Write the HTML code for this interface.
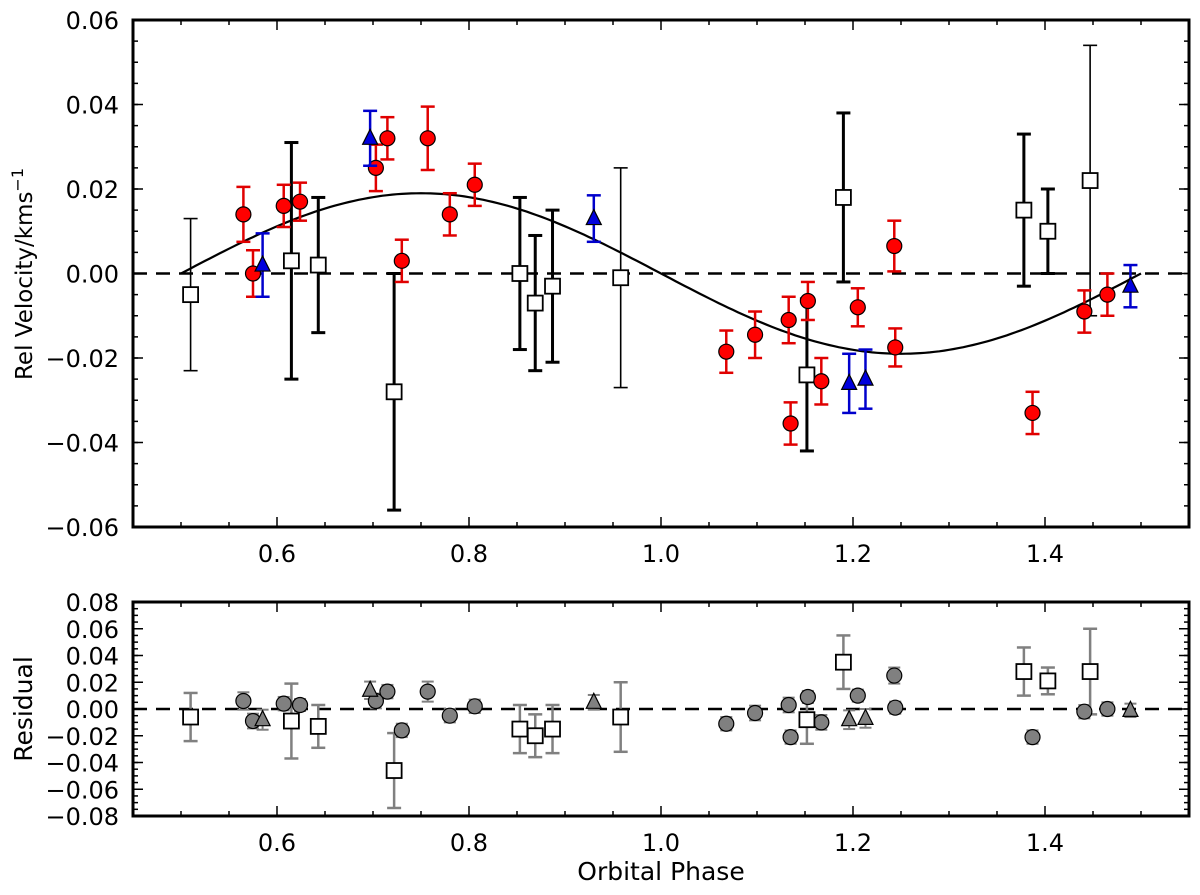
<!DOCTYPE html>
<html><head><meta charset="utf-8"><style>
body{margin:0;background:#fff;}
svg text{font-family:"DejaVu Sans","Liberation Sans",sans-serif;fill:#000;}
</style></head><body>
<svg id="chart" width="1200" height="890" xmlns="http://www.w3.org/2000/svg"></svg>
<script>
// ---- data ----
const sqPhase = [0.51,0.615,0.643,0.722,0.853,0.869,0.887,0.958,1.152,1.19,1.378,1.403,1.447];
const sqVel   = [-0.005,0.003,0.002,-0.028,0.000,-0.007,-0.003,-0.001,-0.024,0.018,0.015,0.010,0.022];
const sqErr   = [0.018,0.028,0.016,0.028,0.018,0.016,0.018,0.026,0.018,0.020,0.018,0.010,0.032];
const sqThin  = [1,0,0,0,0,0,0,1,0,0,0,0,1];
const sqRes   = [-0.006,-0.009,-0.013,-0.046,-0.015,-0.020,-0.015,-0.006,-0.008,0.035,0.028,0.021,0.028];
const ciPhase = [0.565,0.575,0.607,0.624,0.703,0.715,0.730,0.757,0.780,0.806,1.068,1.098,1.133,1.135,1.153,1.167,1.205,1.243,1.244,1.387,1.441,1.465];
const ciVel   = [0.014,0.000,0.016,0.017,0.025,0.032,0.003,0.032,0.014,0.021,-0.0185,-0.0145,-0.011,-0.0355,-0.0065,-0.0255,-0.008,0.0065,-0.0175,-0.033,-0.009,-0.005];
const ciErr   = [0.0065,0.0055,0.005,0.0045,0.0055,0.005,0.005,0.0075,0.005,0.005,0.005,0.0055,0.0055,0.005,0.0045,0.0055,0.0045,0.006,0.0045,0.005,0.005,0.005];
const ciRes   = [0.006,-0.009,0.004,0.003,0.006,0.013,-0.016,0.013,-0.005,0.002,-0.011,-0.003,0.003,-0.021,0.009,-0.010,0.010,0.025,0.001,-0.021,-0.002,0.000];
const trPhase = [0.585,0.697,0.930,1.196,1.213,1.489];
const trVel   = [0.002,0.032,0.013,-0.026,-0.025,-0.003];
const trErr   = [0.0075,0.0065,0.0055,0.007,0.007,0.005];
const trRes   = [-0.008,0.014,0.005,-0.008,-0.007,-0.001];
const modelK  = 0.019;
const xTicks  = [0.6,0.8,1.0,1.2,1.4];
const yTicksTop = [0.06,0.04,0.02,0.00,-0.02,-0.04,-0.06];
const yTicksBot = [0.08,0.06,0.04,0.02,0.00,-0.02,-0.04,-0.06,-0.08];

const NS="http://www.w3.org/2000/svg";
const svg=document.getElementById('chart');
function mk(tag,attrs,parent){const e=document.createElementNS(NS,tag);for(const k in attrs)e.setAttribute(k,attrs[k]);(parent||svg).appendChild(e);return e;}
const L=133,R=1189;
const X=v=>L+(v-0.45)/(1.10)*(R-L);
const T={top:20,bot:527,min:-0.06,max:0.06};
const B={top:602,bot:816,min:-0.08,max:0.08};
const Y=(p,v)=>p.bot-(v-p.min)/(p.max-p.min)*(p.bot-p.top);
const fmt=v=>(v<0?'\u2212':'')+Math.abs(v).toFixed(2);

function frame(p,yt,minorStep,name){
  const g=mk('g',{});
  
  
  for(let v=0.5;v<1.55;v+=0.05){const x=X(v);const major=Math.abs((v*10)%2)<0.01||Math.abs((v*10)%2-2)<0.01;const len=major?10:5;
    mk('line',{x1:x,x2:x,y1:p.bot,y2:p.bot-len,stroke:'#000','stroke-width':1.5},g);
    mk('line',{x1:x,x2:x,y1:p.top,y2:p.top+len,stroke:'#000','stroke-width':1.5},g);}
  for(let v=p.min;v<=p.max+1e-9;v+=minorStep){const y=Y(p,v);
    mk('line',{x1:L,x2:L+5,y1:y,y2:y,stroke:'#000','stroke-width':1.5},g);
    mk('line',{x1:R,x2:R-5,y1:y,y2:y,stroke:'#000','stroke-width':1.5},g);}
  yt.forEach(v=>{const y=Y(p,v);
    mk('line',{x1:L,x2:L+10,y1:y,y2:y,stroke:'#000','stroke-width':1.5},g);
    mk('line',{x1:R,x2:R-10,y1:y,y2:y,stroke:'#000','stroke-width':1.5},g);
    const t=mk('text',{x:L-14,y:y+9,'text-anchor':'end','font-size':24},g);t.textContent=fmt(v);
    
    });
  xTicks.forEach(v=>{const t=mk('text',{x:X(v),y:p.bot+35,'text-anchor':'middle','font-size':24},g);t.textContent=v.toFixed(1);
    
    });
  mk('line',{x1:L,x2:R,y1:Y(p,0),y2:Y(p,0),stroke:'#000','stroke-width':2.5,'stroke-dasharray':'14,9'},g);
  mk('rect',{x:L,y:p.top,width:R-L,height:p.bot-p.top,fill:'none',stroke:'#000','stroke-width':3},g);
}
function errbar(p,x,v,e,color,w,cap){
  const g=mk('g',{});
  
  
  const y1=Y(p,v+e),y2=Y(p,v-e),px=X(x);
  mk('line',{x1:px,x2:px,y1:y1,y2:y2,stroke:color,'stroke-width':w},g);
  mk('line',{x1:px-cap,x2:px+cap,y1:y1,y2:y1,stroke:color,'stroke-width':w},g);
  mk('line',{x1:px-cap,x2:px+cap,y1:y2,y2:y2,stroke:color,'stroke-width':w},g);
}
function circle(p,x,v,fill,r){const c=mk('circle',{cx:X(x),cy:Y(p,v),r:r,fill:fill,stroke:'#000','stroke-width':1.2});
  
  }
function square(p,x,v,s){const c=mk('rect',{x:X(x)-s/2,y:Y(p,v)-s/2,width:s,height:s,fill:'#fff',stroke:'#000','stroke-width':1.8});
  
  }
function tri(p,x,v,fill,s){const cx=X(x),cy=Y(p,v);const c=mk('polygon',{points:`${cx},${cy-s*0.6} ${cx-s/2},${cy+s*0.4} ${cx+s/2},${cy+s*0.4}`,fill:fill,stroke:'#000','stroke-width':1.2});
  
  }

// ---- top panel ----
frame(T,yTicksTop,0.005,'velocity-panel');
let d='';for(let i=0;i<=200;i++){const ph=0.5+i/200;const v=modelK*Math.sin(2*Math.PI*(ph-0.5));d+=(i?'L':'M')+X(ph).toFixed(1)+','+Y(T,v).toFixed(1);}
const mc=mk('path',{d:d,fill:'none',stroke:'#000','stroke-width':2.2});


sqPhase.forEach((x,i)=>errbar(T,x,sqVel[i],sqErr[i],'#000',sqThin[i]?1.6:3,7));
sqPhase.forEach((x,i)=>square(T,x,sqVel[i],15));
ciPhase.forEach((x,i)=>errbar(T,x,ciVel[i],ciErr[i],'#e00000',2.5,7));
ciPhase.forEach((x,i)=>circle(T,x,ciVel[i],'#ff0000',7.5));
trPhase.forEach((x,i)=>errbar(T,x,trVel[i],trErr[i],'#0000cc',2.5,7));
trPhase.forEach((x,i)=>tri(T,x,trVel[i],'#0000dd',15));

// ---- bottom panel ----
frame(B,yTicksBot,0.005,'residual-panel');
const gc='#808080';
sqPhase.forEach((x,i)=>errbar(B,x,sqRes[i],sqErr[i],gc,2.5,7));
ciPhase.forEach((x,i)=>errbar(B,x,ciRes[i],ciErr[i],gc,2,6));
trPhase.forEach((x,i)=>errbar(B,x,trRes[i],trErr[i],gc,2,6));
ciPhase.forEach((x,i)=>circle(B,x,ciRes[i],gc,7.5));
trPhase.forEach((x,i)=>tri(B,x,trRes[i],gc,15));
sqPhase.forEach((x,i)=>square(B,x,sqRes[i],15));

// ---- axis titles ----
let t=mk('text',{x:0,y:0,'font-size':23,'text-anchor':'middle',transform:'translate(32,274) rotate(-90)'});
t.innerHTML='Rel Velocity/kms<tspan dy="-9" font-size="16">\u22121</tspan>';


t=mk('text',{x:0,y:0,'font-size':25,'text-anchor':'middle',transform:'translate(32,709) rotate(-90)'});
t.textContent='Residual';


t=mk('text',{x:661,y:880,'font-size':25,'text-anchor':'middle'});
t.textContent='Orbital Phase';


</script>
</body></html>
